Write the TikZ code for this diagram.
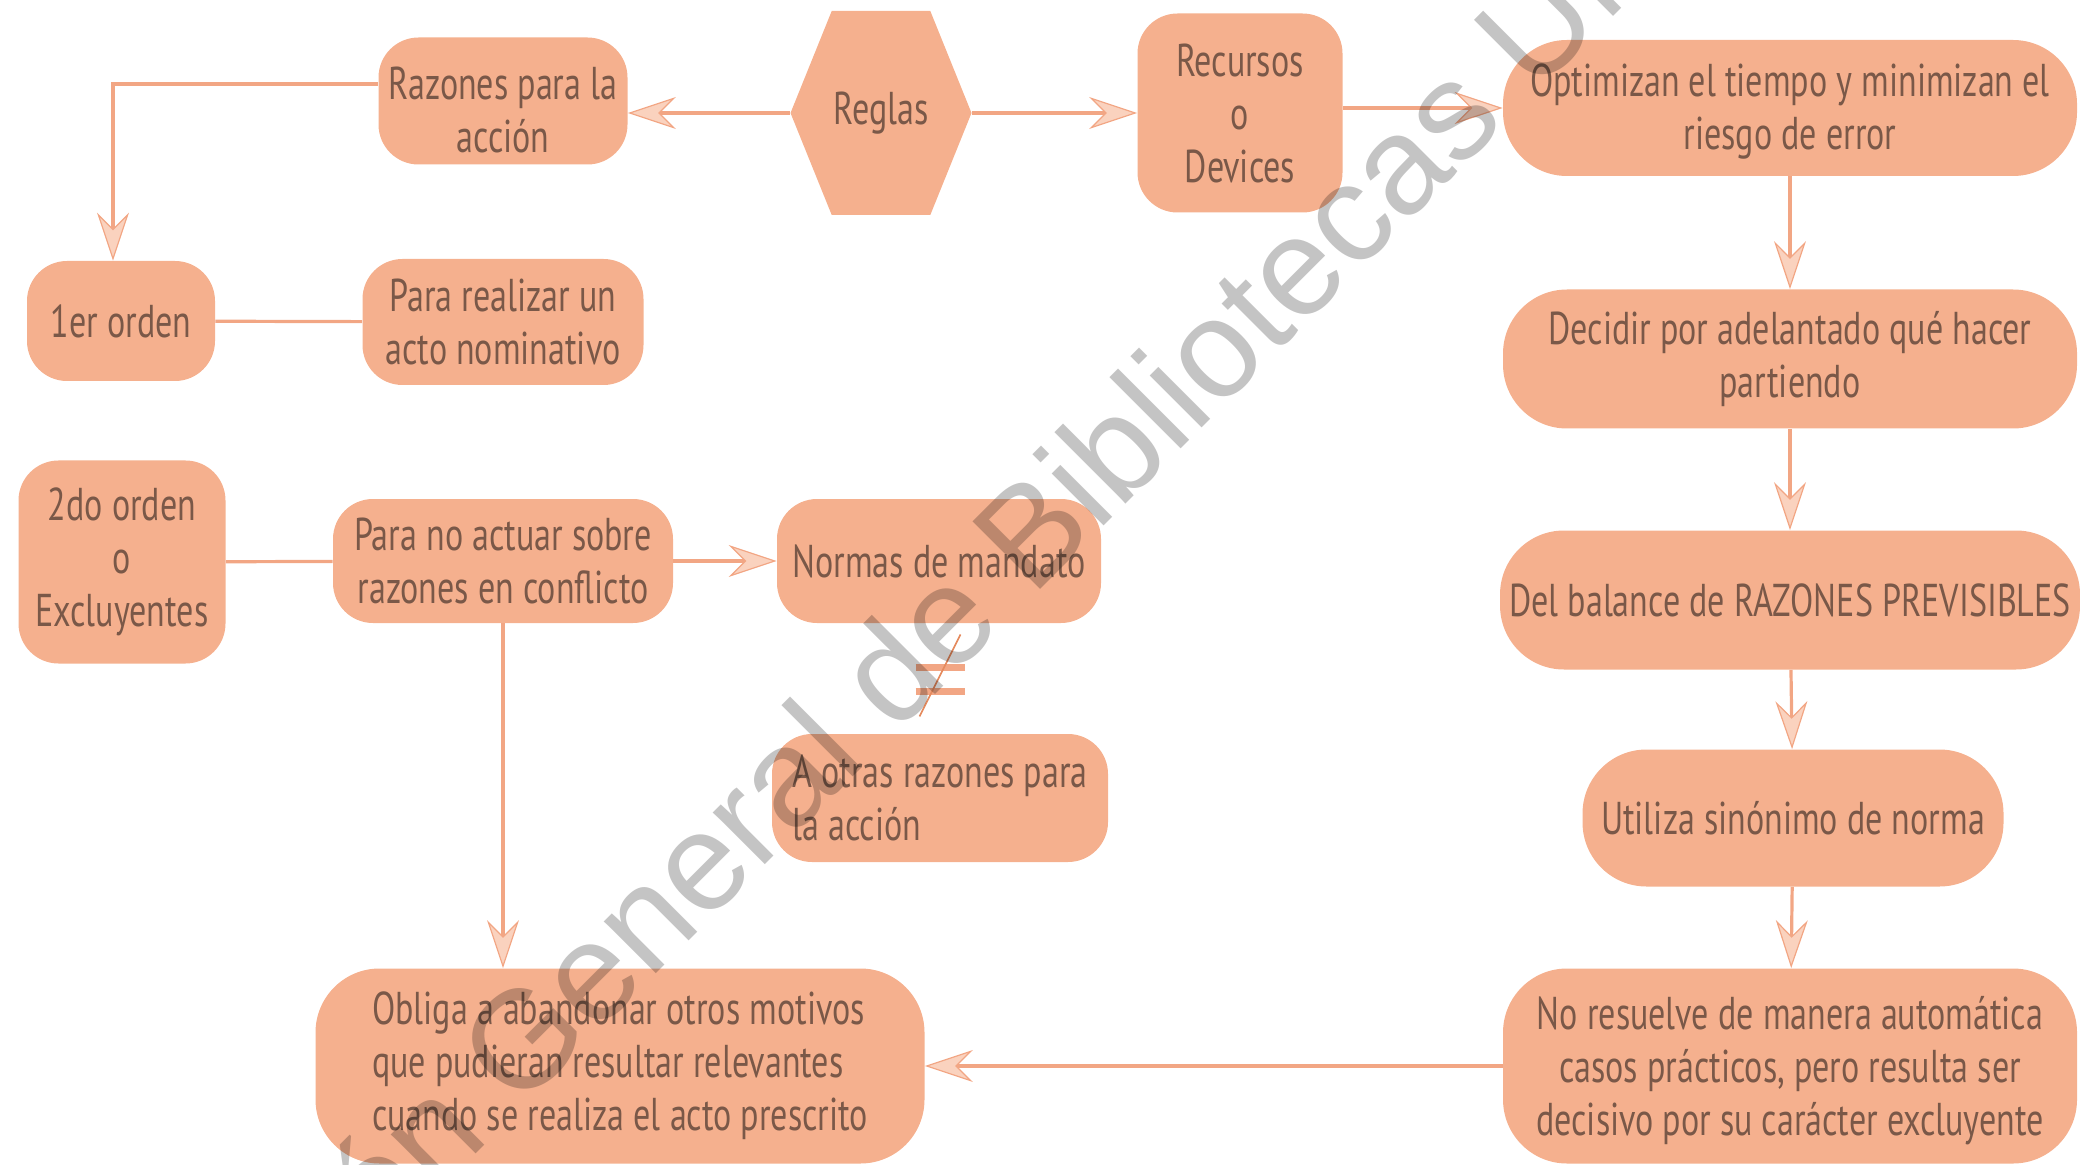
\documentclass[tikz,border=0pt]{standalone}
\usepackage{fontspec}
\setmainfont[FakeStretch=0.74]{PT Sans}
\newfontfamily\markfont{Liberation Sans}
\usetikzlibrary{arrows.meta,calc,positioning,shapes.symbols}
\definecolor{mppeach}{HTML}{F5B08E}
\definecolor{mpline}{HTML}{F2A684}
\definecolor{mptip}{HTML}{FAD2BE}
\definecolor{mpink}{HTML}{7A5848}
\definecolor{mpslash}{HTML}{E58B5F}
\definecolor{mpgray}{HTML}{C4C4C4}
\tikzset{
  mp box/.style={fill=mppeach, rounded corners=20pt, align=center, inner sep=0pt,
    font=\fontsize{23}{26.5}\selectfont, text=mpink},
  mp wide/.style={mp box, rounded corners=32pt},
  mp line/.style={draw=mpline, line width=1.6pt},
  mp arrow/.style={mp line, -{Stealth[length=24pt,width=16pt,inset=8pt,
    fill=mptip,color=mpline,line width=0.6pt]}},
  mp bar/.style={draw=mpline, line width=3.5pt},
  mp mark/.style={font=\markfont\fontsize{69.5}{70}\selectfont, text=mpgray,
    blend mode=multiply, rotate=45}
}

\begin{document}
\begin{tikzpicture}[x=0.5pt, y=-0.5pt]
  \useasboundingbox (0,0) rectangle (2080,1165);
  % top row
  \node[mp box, minimum width=124.5pt, minimum height=63.5pt] (razones) at (503,101) {\rule{0pt}{25pt}Razones para la\\acción};
  \node[mp box, sharp corners, shape=signal, signal to=east and west, signal pointer angle=136,
    minimum width=90.5pt, minimum height=102pt] (reglas) at (881,113) {Reglas};
  \node[mp box, minimum width=102.5pt, minimum height=99.5pt] (recursos) at (1240,113) {Recursos\\o\\Devices};
  \node[mp wide, minimum width=287pt, minimum height=68pt] (optimizan) at (1790,108) {\rule{0pt}{20pt}Optimizan el tiempo y minimizan el\\riesgo de error};
  % left side
  \node[mp box, minimum width=94pt, minimum height=60pt] (orden1) at (121,321) {1er orden};
  \node[mp box, minimum width=140.5pt, minimum height=63pt] (realizar) at (503,322) {Para realizar un\\acto nominativo};
  \node[mp box, minimum width=103.5pt, minimum height=101.5pt] (orden2) at (122,562) {2do orden\\o\\Excluyentes};
  \node[mp box, minimum width=170pt, minimum height=62pt] (noactuar) at (503,561) {Para no actuar sobre\\razones en conflicto};
  \node[mp box, minimum width=162pt, minimum height=62pt] (normas) at (939,561) {Normas de mandato};
  \node[mp box, align=left, minimum width=168pt, minimum height=64pt] (otras) at (940,798) {A otras razones para\\la acción};
  \node[mp wide, align=left, minimum width=304.5pt, minimum height=97.5pt] (obliga) at (620,1066) {Obliga a abandonar otros motivos\\que pudieran resultar relevantes\\cuando se realiza el acto prescrito};
  % right column
  \node[mp wide, minimum width=287pt, minimum height=69.5pt] (decidir) at (1790,359) {Decidir por adelantado qué hacer\\partiendo};
  \node[mp wide, minimum width=290pt, minimum height=69.5pt] (balance) at (1790,600) {Del balance de RAZONES PREVISIBLES};
  \node[mp wide, minimum width=210.5pt, minimum height=68.5pt] (utiliza) at (1793,818) {Utiliza sinónimo de norma};
  \node[mp wide, minimum width=287pt, minimum height=97.5pt] (noresuelve) at (1790,1066) {\rule{0pt}{21pt}No resuelve de manera automática\\casos prácticos, pero resulta ser\\decisivo por su carácter excluyente};

  \draw[mp arrow] (reglas.west) -- (reglas.west -| razones.east);
  \draw[mp arrow] (reglas.east) -- (reglas.east -| recursos.west);
  \draw[mp arrow] (optimizan.west -| recursos.east) -- (optimizan.west);
  \draw[mp arrow] ([yshift=8.5pt]razones.west) -| ([xshift=-4pt]orden1.north);
  \draw[mp line] (orden1) -- (realizar);
  \draw[mp line] (orden2) -- (noactuar);
  \draw[mp arrow] (noactuar) -- (normas);
  \draw[mp arrow] (noactuar) -- (noactuar |- obliga.north);
  \draw[mp arrow] (optimizan) -- (decidir);
  \draw[mp arrow] (decidir) -- (balance);
  \draw[mp arrow] (balance) -- (utiliza);
  \draw[mp arrow] (utiliza) -- (noresuelve);
  \draw[mp arrow] (noresuelve) -- (obliga);

  % not equal sign
  \coordinate (neq) at ($(normas.south)!0.5!(otras.north)$);
  \draw[mp bar] ($(neq)+(-24,-11)$) -- ++(49,0);
  \draw[mp bar] ($(neq)+(-24,13)$) -- ++(49,0);
  \draw[draw=mpslash, line width=0.8pt] ($(neq)+(21,-44)$) -- ($(neq)+(-20,38)$);

  \node[mp mark, anchor=base] (mark) at (953,677) {Dirección General de Bibliotecas UNAM};
\end{tikzpicture}
\end{document}
